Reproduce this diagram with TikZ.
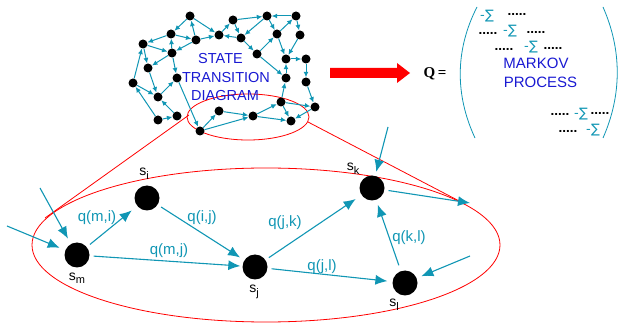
\documentclass[tikz,border=0pt]{standalone}
\usepackage{fontspec}
\setmainfont{Liberation Sans}
\newfontfamily\serifb{Liberation Serif}
\newfontfamily\djv{DejaVu Sans}
\usetikzlibrary{arrows.meta}
\definecolor{teal1}{RGB}{16,150,180}
\definecolor{blu}{RGB}{25,25,210}
\begin{document}
\begin{tikzpicture}[x=1pt,y=-1pt,
  sn/.style={circle,fill=black,inner sep=0,minimum size=9pt},
  se/.style={draw=teal1,line width=1pt,-{Latex[length=5.5pt,width=5pt]}},
  bn/.style={circle,fill=black,inner sep=0,minimum size=25pt},
  be/.style={draw=teal1,line width=1.1pt,-{Latex[length=12pt,width=10pt]},shorten <=4pt,shorten >=5pt},
  ql/.style={text=teal1,font=\fontsize{15}{15}\selectfont,inner sep=0},
  sl/.style={font=\fontsize{14}{14}\selectfont,inner sep=0},
  dts/.style={font=\bfseries\fontsize{13.5}{13.5}\selectfont,inner sep=0},
  sig/.style={text=teal1,font=\djv\fontsize{13}{13}\selectfont,inner sep=0},
  bt/.style={text=blu,font=\fontsize{14.5}{14.5}\selectfont,inner sep=0},
  redl/.style={draw=red,line width=0.8pt},
]
\useasboundingbox (0,0) rectangle (619,323);
% red elements
\draw[redl] (248,117) ellipse [x radius=61pt, y radius=23pt];
\draw[redl] (266,245) ellipse [x radius=234pt, y radius=77pt];
\coordinate (la) at (189,115);
\coordinate (lb) at (45,218);
\coordinate (ra) at (308,122);
\coordinate (rb) at (463,203);
\draw[redl] (la) -- (lb);
\draw[redl] (ra) -- (rb);
\fill[red] (330,68) -- (397,68) -- (397,63) -- (410,73) -- (397,83) -- (397,78) -- (330,78) -- cycle;
% small network
\foreach \n/\x/\y in {a/190/16, b/233/20, c/267/16, d/296/16, e/171/34, f/196/40, g/219/35,
  h/241/38, i/277/34, j/300/35, k/143/44, l/172/53, m/257/54, n/286/59, o/306/59,
  p/148/68, q/133/83, r/177/78, s/286/78, t/306/82, u/158/97, v/158/120, w/177/116,
  x/219/111, y/253/116, z/281/102, aa/315/107, bb/291/121, cc/200/131}
  \node[sn] (\n) at (\x,\y) {};
\foreach \s/\t in {a/e, f/a, a/g, e/f, e/k, k/l, l/e, f/l, l/p, k/p, q/k, l/r, p/u, q/u,
  u/r, v/w, w/u, v/q, r/cc, cc/x, cc/y, x/y, y/z, y/bb, z/bb, z/aa, aa/bb, t/aa, z/s,
  o/t, n/o, s/n, m/s, i/n, j/n, m/i, h/m, i/d, d/j, d/c, c/i, c/h, b/h, b/c, h/g, g/b, f/g}
  \draw[se] (\s) -- (\t);
% text in network
\node[bt] (st1) at (220.5,59) {STATE};
\node[bt] (st2) at (226,77.5) {TRANSITION};
\node[bt] (st3) at (225,96) {DIAGRAM};
% Q matrix
\node[inner sep=0,font=\serifb\bfseries\fontsize{15}{15}\selectfont] (Q) at (435,74) {Q\,=};
\draw[teal1,line width=0.8pt] (477,7) .. controls (455,50) and (455,95) .. (475,138);
\draw[teal1,line width=0.8pt] (603,7) .. controls (622,50) and (622,95) .. (603,138);
\node[sig] (r1s) at (487,16) {-\kern0.5pt∑};
\node[dts] (r1d) at (517,14) {.....};
\node[dts] (r2a) at (488,33) {.....};
\node[sig] (r2s) at (510,31) {-\kern0.5pt∑};
\node[dts] (r2b) at (536,32) {.....};
\node[dts] (r3a) at (504,49) {.....};
\node[sig] (r3s) at (531,47) {-\kern0.5pt∑};
\node[dts] (r3b) at (553,48) {.....};
\node[bt,font=\fontsize{15}{15}\selectfont] (mk) at (536,63.5) {MARKOV};
\node[bt,font=\fontsize{15}{15}\selectfont] (pr) at (540.5,82.5) {PROCESS};
\node[dts] (r4a) at (560,114) {.....};
\node[sig] (r4s) at (581,114) {-\kern0.5pt∑};
\node[dts] (r4b) at (600,113) {.....};
\node[dts] (r5a) at (568,131) {.....};
\node[sig] (r5s) at (593,130) {-\kern0.5pt∑};
% big graph
\node[bn] (sm) at (77,255) {};
\node[bn] (si) at (147,198) {};
\node[bn] (sj) at (255,267) {};
\node[bn] (sk) at (372,188) {};
\node[bn] (sl) at (405,283) {};
\node[sl] (lsm) at (77,278) {s\raisebox{-3.5pt}{\fontsize{11}{11}\selectfont m}};
\node[sl] (lsi) at (144,174) {s\raisebox{-4pt}{\fontsize{11}{11}\selectfont i}};
\node[sl] (lsj) at (254,292) {s\raisebox{-4pt}{\fontsize{11}{11}\selectfont j}};
\node[sl] (lsk) at (353,169) {s\raisebox{-4pt}{\fontsize{11}{11}\selectfont k}};
\node[sl] (lsl) at (394,305) {s\raisebox{-4pt}{\fontsize{11}{11}\selectfont l}};
\coordinate (in1) at (40,188);
\coordinate (in2) at (7,226);
\coordinate (in3) at (388,127);
\coordinate (in4) at (470,256);
\coordinate (out1) at (470,203);
\draw[be,shorten >=7pt] (sm) -- (si);
\draw[be] (si) -- (sj);
\draw[be,shorten >=2pt] (sm) -- (sj);
\draw[be,shorten >=7pt] (sj) -- (sk);
\draw[be] (sj) -- (sl);
\draw[be,shorten <=6pt] (sl) -- (sk);
\draw[be,shorten <=0pt,shorten >=6pt] (in1) -- (sm);
\draw[be,shorten <=0pt,shorten >=6pt] (in2) -- (sm);
\draw[be,shorten <=0pt,shorten >=4pt] (in3) -- (sk);
\draw[be,shorten <=0pt,shorten >=5pt] (in4) -- (sl);
\draw[be,shorten >=0pt] (sk) -- (out1);
\node[ql] (q1) at (97,218) {q(m,i)};
\node[ql] (q2) at (202,218) {q(i,j)};
\node[ql] (q3) at (169,251) {q(m,j)};
\node[ql] (q4) at (285,223) {q(j,k)};
\node[ql] (q5) at (322,267) {q(j,l)};
\node[ql] (q6) at (409,238) {q(k,l)};
\end{tikzpicture}
\end{document}
